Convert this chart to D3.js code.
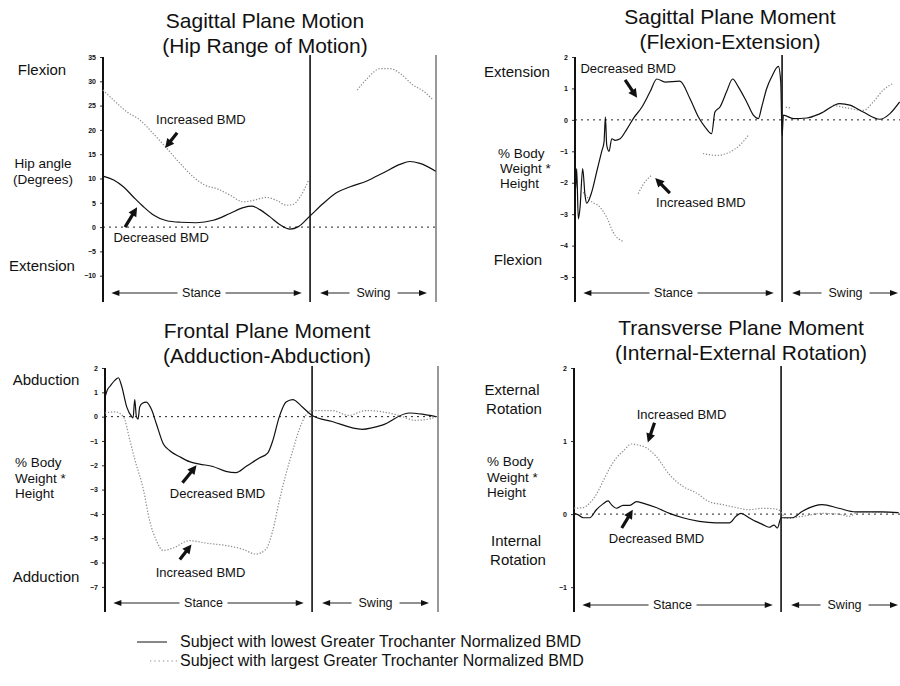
<!DOCTYPE html>
<html><head><meta charset="utf-8">
<script src="https://cdn.jsdelivr.net/npm/d3@7"></script>
<style>
body{margin:0;background:#fff}
svg{display:block}
text{font-family:"Liberation Sans",Arial,sans-serif;fill:#111}
</style>
</head><body>
<svg id="chart" width="900" height="686"></svg>
<script>
// ---------- DATA (x = % gait cycle, y = value) ----------
const phaseNames = ["Stance", "Swing"];
const annotationLabels = ["Increased BMD", "Decreased BMD"];
const legendLabels = [
  "Subject with lowest Greater Trochanter Normalized BMD",
  "Subject with largest Greater Trochanter Normalized BMD"
];

// Panel 1: hip angle (degrees)
const hipTicks = [35, 30, 25, 20, 15, 10, 5, 0, -5, -10];
const hipLow = [[0,10.5],[3.2,9.7],[6.1,8.3],[9.1,6.2],[12.1,4.2],[15.1,2.5],[19.1,1.3],[23.1,1.0],[28,0.9],[33,1.4],[38,2.8],[42,4.0],[44.5,4.3],[47,3.6],[50,2.1],[53,0.5],[56,-0.4],[58.5,0.1],[62,2.3],[66,4.9],[70,7.1],[74,8.3],[79,9.5],[84,11.2],[88.9,12.9],[91.9,13.5],[94.9,13.1],[99.6,11.5]];
const hipHigh = [[0,28.2],[3.2,26.1],[7.2,23.7],[11.1,22.0],[15.1,19.2],[19.1,16.2],[23.1,13.1],[27.1,10.3],[30.6,8.6],[34.1,7.9],[38,6.6],[42,5.2],[45,5.5],[49,6.1],[52,5.5],[55,4.5],[57,4.7],[59,6.2],[61.6,9.7],null,[76.1,28.2],[79,30.5],[83,32.6],[86,32.6],[89,31.6],[92.9,29.2],[95.9,28.0],[98.9,26.1]];

// Panel 2: sagittal moment (% BW * Ht)
const sagTicks = [2, 1, 0, -1, -2, -3, -4, -5];
const sagLow = [[0,-0.5],[0.2,-2.2],[0.5,-1.55],[1.0,-3.15],[1.5,-2.8],[2.3,-1.55],[3.0,-2.4],[3.5,-2.65],[5.0,-2.3],[6.5,-1.65],[8.0,-1.0],[8.7,-0.7],[9.1,0.1],[9.5,-0.8],[10.2,-1.0],[11.0,-0.6],[12.0,-0.65],[13.5,-0.6],[15.5,-0.3],[17.5,0.05],[20,0.4],[22.5,0.9],[24.5,1.3],[27,1.2],[31.4,1.23],[34.4,0.68],[36.9,0.1],[38.9,-0.22],[40.9,-0.44],[41.9,0.25],[43.4,0.41],[45.4,0.9],[47.2,1.3],[48.9,1.05],[51.4,0.57],[53.4,0.15],[54.9,0.04],[55.9,0.41],[57.4,1.0],[58.9,1.37],[60.9,1.7],[61.6,1.2],[62,-0.5],[62.4,0.15],[65.4,0.04],[69.4,0.06],[73.4,0.2],[79.3,0.52],[82.3,0.47],[86.3,0.25],[91.3,0.02],[94.3,0.2],[97.2,0.57]];
const sagHigh = [[2.5,-2.3],[4.5,-2.56],[7.5,-2.78],[9.5,-3.1],[11.4,-3.57],[14.4,-3.87],null,[18.9,-2.35],[20.9,-1.98],[22.9,-1.77],null,[38.3,-1.07],[42.4,-1.13],[46.4,-1.02],[49.4,-0.8],[51.9,-0.49],null,[63.1,0.4],[64.6,0.38],null,[77.3,0.47],[82.3,0.36],[86.3,0.3],[89.3,0.57],[92.3,0.95],[95.3,1.16]];

// Panel 3: frontal moment
const frontTicks = [2, 1, 0, -1, -2, -3, -4, -5, -6, -7];
const frontLow = [[0,0.8],[0.7,1.1],[1.5,1.25],[3.0,1.5],[4.0,1.6],[5.0,1.25],[6.5,0.4],[8.0,0],[8.4,-0.05],[8.9,0.7],[9.4,0],[9.9,-0.1],[10.4,0.4],[11.2,0.55],[12.4,0.6],[13.9,0.3],[15.4,-0.3],[17.4,-1.1],[19.4,-1.4],[22.4,-1.65],[25.3,-1.85],[28.3,-1.95],[32.3,-2.05],[36.2,-2.25],[39.2,-2.3],[42.2,-2.05],[46.2,-1.7],[48.7,-1.5],[50.2,-1.0],[52.2,0],[54.2,0.6],[56.2,0.7],[59.1,0.4],[62,0.05],[68,-0.2],[77,-0.52],[83,-0.35],[91,0.15],[95,0.1],[99,0]];
const frontHigh = [[0,0.15],[3,0.2],[5.5,0],[7.5,-1],[9,-1.8],[11.5,-3],[13.4,-4.3],[15.4,-5.1],[17.4,-5.5],[20.4,-5.4],[25.3,-5.1],[30.3,-5.2],[36.2,-5.3],[41.2,-5.45],[45.2,-5.65],[48.2,-5.45],[50.2,-4.7],[52.2,-3.45],[54.2,-2.35],[56.2,-1.4],[58.1,-0.55],[60.1,0.05],[62,0.25],[68,0.25],[73,0.05],[78,0.25],[83,0.2],[88,0.05],[93,-0.15],[97,-0.1],[99,0]];

// Panel 4: transverse moment
const transTicks = [2, 1, 0, -1];
const transLow = [[0,0.01],[1.3,-0.01],[2.8,-0.05],[4.7,-0.05],[6.7,0.06],[8.7,0.14],[10.2,0.18],[11.2,0.13],[12.7,0.08],[14.7,0.12],[16.7,0.12],[18.7,0.17],[20.6,0.15],[24.6,0.09],[28.6,0.01],[32.6,-0.05],[37.5,-0.1],[42.5,-0.12],[46.5,-0.12],[48.5,-0.03],[50,0.01],[52.4,-0.05],[54.4,-0.1],[56.4,-0.14],[58.4,-0.18],[59.9,-0.15],[60.9,-0.19],[62,-0.05],[65.4,-0.05],[68.4,0.04],[74.3,0.13],[79.3,0.08],[84.3,0.03],[92.3,0.03],[97.2,0.02]];
const transHigh = [[0,0.08],[2.8,0.09],[4.7,0.15],[6.7,0.27],[8.7,0.45],[10.7,0.63],[12.7,0.77],[14.7,0.86],[17.2,0.96],[18.7,0.95],[21.6,0.91],[24.6,0.79],[28.6,0.54],[32.6,0.38],[36.6,0.29],[40.5,0.17],[44.5,0.13],[48.5,0.09],[52.4,0.06],[56.4,0.08],[60.4,0.07],[62,0.03],[63.4,-0.06],[68.4,-0.03],[74.3,0.01],[79.3,0],[82.3,-0.03],[85.3,0.03],[97.2,0.02]];

// ---------- LAYOUT ----------
const svg = d3.select("#chart");
const PX = 3.34; // px per % gait
const STANCE_END = 62;

const panels = [
  { x0:103, top:57, bot:300, lineTop:55, lineBot:302, dom:[-15,35], ticks:hipTicks, low:hipLow, high:hipHigh, rightEdge:true,
    title:["Sagittal Plane Motion","(Hip Range of Motion)"], tx:265, ty:[28,53],
    side:[{t:"Flexion",x:42,y:75,a:"middle",s:15},{t:"Hip angle",x:43,y:168,a:"middle",s:13.5},{t:"(Degrees)",x:43,y:184,a:"middle",s:13.5},{t:"Extension",x:42,y:271,a:"middle",s:15}],
    notes:[{t:0,lx:29.3,ly:22.2,ax:[22.2,19.4,18.6,16.3]},{t:1,lx:17.4,ly:-2.1,ax:[6.6,0.0,10.2,4.1]}] },
  { x0:575, top:57, bot:300, lineTop:55, lineBot:302, dom:[-5.73,2], ticks:sagTicks, low:sagLow, high:sagHigh, rightEdge:false,
    title:["Sagittal Plane Moment","(Flexion-Extension)"], tx:730, ty:[24,49],
    side:[{t:"Extension",x:517,y:77,a:"middle",s:15},{t:"% Body",x:498,y:158,a:"start",s:13.5},{t:"Weight  *",x:500,y:173,a:"start",s:13.5},{t:"Height",x:500,y:188,a:"start",s:13.5},{t:"Flexion",x:518,y:265,a:"middle",s:15}],
    notes:[{t:1,lx:15.9,ly:1.65,ax:[15.0,1.27,18.6,0.7]},{t:0,lx:37.7,ly:-2.64,ax:[28.4,-2.33,24.0,-1.85]}] },
  { x0:105, top:368, bot:610, lineTop:366, lineBot:612, dom:[-7.95,2], ticks:frontTicks, low:frontLow, high:frontHigh, rightEdge:true,
    title:["Frontal Plane Moment","(Adduction-Abduction)"], tx:267, ty:[338,363],
    side:[{t:"Abduction",x:46,y:385,a:"middle",s:15},{t:"% Body",x:15,y:467,a:"start",s:13.5},{t:"Weight  *",x:15,y:483,a:"start",s:13.5},{t:"Height",x:15,y:498,a:"start",s:13.5},{t:"Adduction",x:46,y:582,a:"middle",s:15}],
    notes:[{t:1,lx:33.7,ly:-3.15,ax:[23.2,-2.72,27.4,-2.0]},{t:0,lx:28.6,ly:-6.4,ax:[22.4,-5.87,25.9,-5.26]}] },
  { x0:574, top:368, bot:612, lineTop:366, lineBot:612, dom:[-1.34,2], ticks:transTicks, low:transLow, high:transHigh, rightEdge:false,
    title:["Transverse Plane Moment","(Internal-External Rotation)"], tx:741, ty:[335,360],
    side:[{t:"External",x:512,y:395,a:"middle",s:15},{t:"Rotation",x:514,y:414,a:"middle",s:15},{t:"% Body",x:487,y:466,a:"start",s:13.5},{t:"Weight  *",x:487,y:482,a:"start",s:13.5},{t:"Height",x:487,y:497,a:"start",s:13.5},{t:"Internal",x:516,y:546,a:"middle",s:15},{t:"Rotation",x:518,y:565,a:"middle",s:15}],
    notes:[{t:0,lx:32.2,ly:1.36,ax:[24.1,1.25,22.1,0.98]},{t:1,lx:24.7,ly:-0.33,ax:[14.3,-0.19,17.6,0.06]}] }
];

function headPath(x1, y1, x2, y2, len, wid) {
  const dx = x2 - x1, dy = y2 - y1, L = Math.hypot(dx, dy);
  const ux = dx / L, uy = dy / L, bx = x2 - ux * len, by = y2 - uy * len;
  return `M${x2},${y2}L${bx - uy * wid / 2},${by + ux * wid / 2}L${bx + uy * wid / 2},${by - ux * wid / 2}Z`;
}

panels.forEach(p => {
  const g = svg.append("g");
  const x = d3.scaleLinear().domain([0, 100]).range([p.x0, p.x0 + 100 * PX]);
  const y = d3.scaleLinear().domain(p.dom).range([p.bot, p.top]);
  const xMax = Math.min(x(100), 900);

  // titles
  p.title.forEach((t, i) => g.append("text").attr("x", p.tx).attr("y", p.ty[i])
    .attr("text-anchor", "middle").attr("font-size", 21).text(t));
  // side labels
  p.side.forEach(s => g.append("text").attr("x", s.x).attr("y", s.y)
    .attr("text-anchor", s.a).attr("font-size", s.s).text(s.t));

  // zero line
  g.append("line").attr("x1", x(0)).attr("x2", xMax).attr("y1", y(0)).attr("y2", y(0))
    .attr("stroke", "#222").attr("stroke-width", 1).attr("stroke-dasharray", "2,4");

  // axis
  const ax = g.append("g").attr("transform", `translate(${x(0)},0)`)
    .call(d3.axisLeft(y).tickValues(p.ticks).tickSize(3).tickSizeOuter(0).tickPadding(4).tickFormat(d3.format("d")));
  ax.select(".domain").remove();
  ax.selectAll("text").attr("font-size", 7).attr("font-weight", "bold").style("font-family", "Liberation Sans, Arial, sans-serif");
  ax.selectAll(".tick line").attr("stroke", "#333");
  g.append("line").attr("x1", x(0)).attr("x2", x(0)).attr("y1", p.top).attr("y2", p.lineBot)
    .attr("stroke", "#111").attr("stroke-width", 2);
  // stance/swing divider
  g.append("line").attr("x1", x(STANCE_END)).attr("x2", x(STANCE_END)).attr("y1", p.lineTop).attr("y2", p.lineBot)
    .attr("stroke", "#111").attr("stroke-width", 1.6);
  if (p.rightEdge) {
    g.append("line").attr("x1", x(99.7)).attr("x2", x(99.7)).attr("y1", p.lineTop).attr("y2", p.lineBot)
      .attr("stroke", "#555").attr("stroke-width", 1.2);
  }

  // curves
  const line = d3.line().defined(d => d != null).x(d => x(d[0])).y(d => y(d[1])).curve(d3.curveMonotoneX);
  g.append("path").datum(p.high).attr("d", line).attr("fill", "none")
    .attr("stroke", "#8c8c8c").attr("stroke-width", 1.2).attr("stroke-dasharray", "1.3,1.7");
  g.append("path").datum(p.low).attr("d", line).attr("fill", "none")
    .attr("stroke", "#111").attr("stroke-width", 1.2);

  // annotations
  p.notes.forEach(n => {
    g.append("text").attr("x", x(n.lx)).attr("y", y(n.ly)).attr("dy", "0.35em")
      .attr("text-anchor", "middle").attr("font-size", 13).text(annotationLabels[n.t]);
    const [ax1, ay1, ax2, ay2] = [x(n.ax[0]), y(n.ax[1]), x(n.ax[2]), y(n.ax[3])];
    const L = Math.hypot(ax2 - ax1, ay2 - ay1);
    const ex = ax2 - (ax2 - ax1) / L * 6, ey = ay2 - (ay2 - ay1) / L * 6;
    g.append("line").attr("x1", ax1).attr("y1", ay1).attr("x2", ex).attr("y2", ey)
      .attr("stroke", "#111").attr("stroke-width", 3.2);
    g.append("path").attr("d", headPath(ax1, ay1, ax2, ay2, 9, 9)).attr("fill", "#111");
  });

  // stance / swing arrows
  const ay = p.bot - 7;
  [[2.5, 59.5, 29.5, 0], [65, 97, 81, 1]].forEach(([a, b, m, k]) => {
    const half = 20;
    const xa = x(a), xb = Math.min(x(b), 898), xm = x(m);
    g.append("text").attr("x", xm).attr("y", ay).attr("dy", "0.35em").attr("text-anchor", "middle")
      .attr("font-size", 12.5).text(phaseNames[k]);
    g.append("line").attr("x1", xa + 4).attr("x2", xm - half - 4).attr("y1", ay).attr("y2", ay).attr("stroke", "#222").attr("stroke-width", 1);
    g.append("line").attr("x1", xm + half + 4).attr("x2", xb - 4).attr("y1", ay).attr("y2", ay).attr("stroke", "#222").attr("stroke-width", 1);
    g.append("path").attr("d", headPath(xa + 10, ay, xa, ay, 8, 6)).attr("fill", "#111");
    g.append("path").attr("d", headPath(xb - 10, ay, xb, ay, 8, 6)).attr("fill", "#111");
  });
});

// legend
const lg = svg.append("g");
lg.append("line").attr("x1", 137).attr("x2", 167).attr("y1", 642).attr("y2", 642).attr("stroke", "#111").attr("stroke-width", 1);
lg.append("line").attr("x1", 150).attr("x2", 177).attr("y1", 661).attr("y2", 661)
  .attr("stroke", "#8c8c8c").attr("stroke-width", 1.2).attr("stroke-dasharray", "1.3,3");
legendLabels.forEach((t, i) => lg.append("text").attr("x", 180).attr("y", 647 + i * 19)
  .attr("font-size", 16).text(t));
</script>
</body></html>
